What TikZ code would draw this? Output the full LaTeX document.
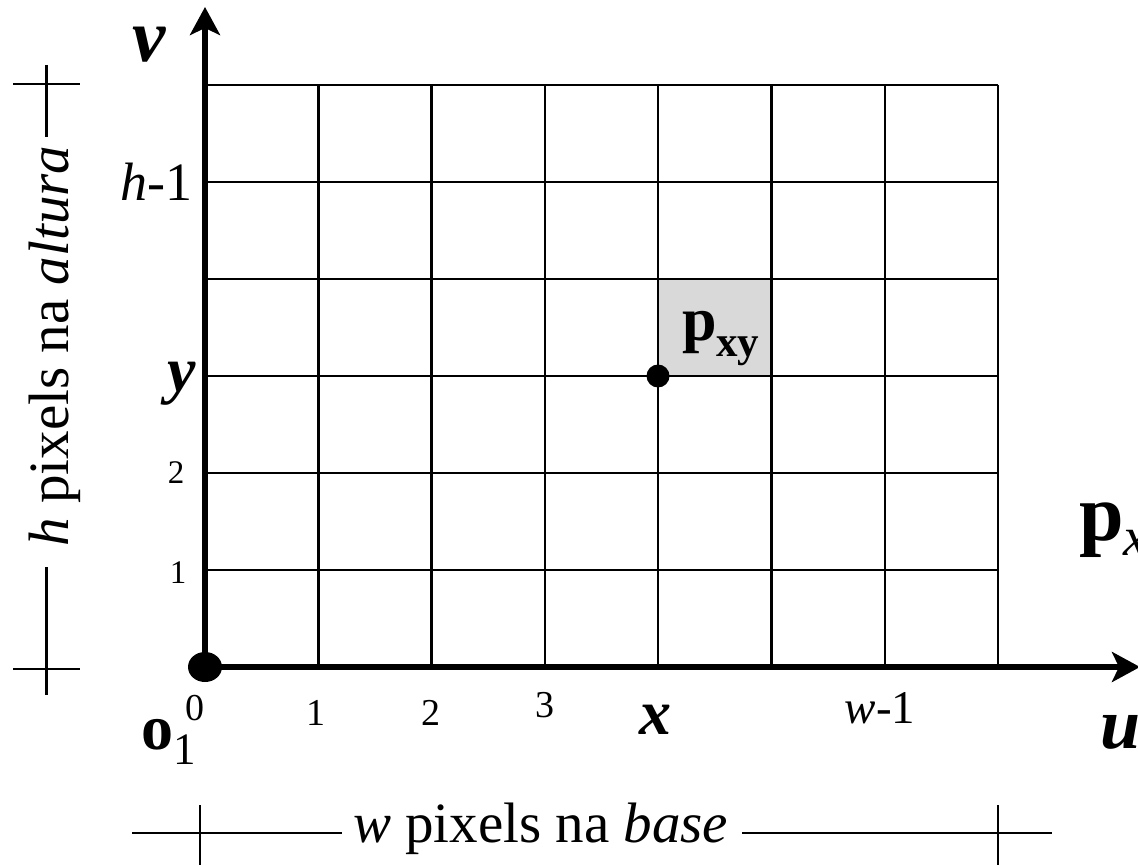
\documentclass[tikz,border=0pt]{standalone}
\usepackage{fontspec}
\setmainfont{Liberation Serif}
\usetikzlibrary{arrows.meta}
\definecolor{cellgray}{HTML}{D9D9D9}
\newcommand\myfs[1]{\fontsize{#1}{#1}\selectfont}
\begin{document}
\begin{tikzpicture}[x=1pt,y=-1pt,
  gridline/.style={line width=2.5pt},
  axisline/.style={line width=6pt,-{Stealth[length=28pt,width=30pt,inset=7pt]}},
  dimline/.style={line width=2.5pt},
  lbl/.style={inner sep=0pt,outer sep=0pt},
]
\useasboundingbox (0,0) rectangle (1138,866);
\clip (0,0) rectangle (1138,866);
% shaded cell
\fill[cellgray] (658,279) rectangle (771.3,376);
% grid
\foreach \i in {1,...,7} \draw[gridline] ({205+113.3*\i},85) -- ({205+113.3*\i},667);
\foreach \j in {1,...,6} \draw[gridline] (205,{667-97*\j}) -- (998,{667-97*\j});
% axes
\coordinate (O) at (205,667);
\coordinate (vend) at (205,7);
\coordinate (uend) at (1140,667);
\draw[axisline] (O) -- (vend);
\draw[axisline] (O) -- (uend);
\fill (O) ellipse [x radius=17pt, y radius=15pt];
\node[circle,fill,minimum size=23pt,inner sep=0pt] (P) at (658,376) {};
% axis labels
\node[lbl,anchor=base] (vlab) at (149,62) {\myfs{75}\textbf{\textit{v}}};
\node[lbl,anchor=base west] (ulab) at (1100,748) {\myfs{72}\textbf{\textit{u}}};
\node[lbl,anchor=base west] (bigp) at (1079,540) {\myfs{80}\textbf{p}\raisebox{-15pt}{\myfs{55}\textit{xy}}};
\node[lbl,anchor=base west] (pxy) at (682,341) {\myfs{62}\textbf{p}\raisebox{-16pt}{\myfs{43}\textbf{xy}}};
% left tick labels
\node[lbl,anchor=base east] (hm1) at (192,201) {\myfs{54}\textit{h}-1};
\node[lbl,anchor=base] (ylab) at (182,392) {\myfs{64}\textbf{\textit{y}}};
\node[lbl,anchor=base] (l2) at (176,483) {\myfs{33}2};
\node[lbl,anchor=base] (l1) at (178,583) {\myfs{33}1};
% bottom tick labels
\node[lbl,anchor=base] (b0) at (195,720) {\myfs{38}0};
\node[lbl,anchor=base] (b1) at (316,725) {\myfs{38}1};
\node[lbl,anchor=base] (b2) at (431,725) {\myfs{38}2};
\node[lbl,anchor=base] (b3) at (545,717) {\myfs{38}3};
\node[lbl,anchor=base] (xlab) at (655,734) {\myfs{64}\textbf{\textit{x}}};
\node[lbl,anchor=base] (wm1) at (880,723) {\myfs{47}\textit{w}-1};
\node[lbl,anchor=base west] (o1) at (141,749) {\myfs{64}\textbf{o}\raisebox{-15pt}{\myfs{45}1}};
% height dimension
\node[lbl,rotate=90,anchor=base] (hlab) at (68,346) {\myfs{57}\textit{h} pixels na \textit{altura}};
\coordinate (ht) at (46.5,65);
\coordinate (htin) at (46.5,137);
\coordinate (hbin) at (46.5,567);
\coordinate (hb) at (46.5,695);
\draw[dimline] (13,84) -- (80,84);
\draw[dimline] (13,669) -- (80,669);
\draw[dimline] (ht) -- (htin);
\draw[dimline] (hbin) -- (hb);
% width dimension
\node[lbl,anchor=base west] (wlab) at (353,842) {\myfs{57}\textit{w} pixels na \textit{base}};
\coordinate (wl) at (132,833);
\coordinate (wlin) at (342,833);
\coordinate (wrin) at (742,833);
\coordinate (wr) at (1052,833);
\draw[dimline] (wl) -- (wlin);
\draw[dimline] (wrin) -- (wr);
\draw[dimline] (200,805) -- (200,865);
\draw[dimline] (998,805) -- (998,865);
\end{tikzpicture}
\end{document}
